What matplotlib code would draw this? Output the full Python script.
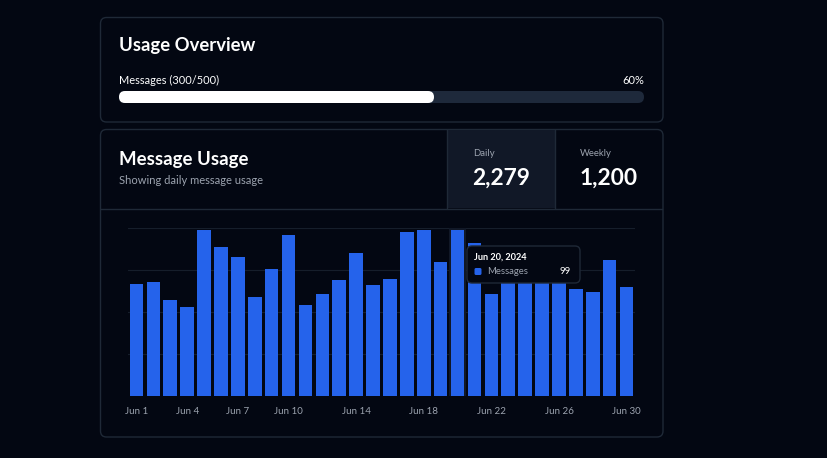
import matplotlib
matplotlib.use("Agg")
import matplotlib.pyplot as plt
from matplotlib.patches import FancyBboxPatch, Rectangle

plt.rcParams['font.family'] = ['Lato', 'DejaVu Sans']

# donnees
days = [f"Jun {d}" for d in range(1, 31)]
messages = [67, 68, 57, 53, 99, 89, 83, 59, 76, 96,
            54, 61, 69, 85, 66, 70, 98, 99, 80, 99,
            91, 61, 75, 80, 72, 78, 64, 62, 81, 65]
tick_idx = [0, 3, 6, 9, 13, 17, 21, 25, 29]
hover = 19
used, limit = 300, 500
daily_total = "2,279"
weekly_total = "1,200"

BG = "#030712"
BORDER = "#1f2937"
BLUE = "#2563eb"
GRAY = "#9ca3af"

W, H = 828, 458
fig = plt.figure(figsize=(W / 100, H / 100), dpi=100, facecolor=BG)

# fond en pixels
bg = fig.add_axes([0, 0, 1, 1])
bg.set_xlim(0, W)
bg.set_ylim(H, 0)
bg.axis("off")


def card(x0, y0, x1, y1, fc=BG, r=6):
    bg.add_patch(FancyBboxPatch((x0, y0), x1 - x0, y1 - y0,
                                boxstyle=f"round,pad=0,rounding_size={r}",
                                fc=fc, ec=BORDER, lw=1))


# carte 1 : Usage Overview
card(100.5, 17.5, 663, 122)
bg.text(119, 45, "Usage Overview", color="white", fontsize=13.3,
        fontweight="bold", va="center")
bg.text(119, 80, f"Messages ({used}/{limit})", color="white", fontsize=7.9,
        va="center")
bg.text(644, 80, f"{round(used / limit * 100)}%", color="white",
        fontsize=7.9, va="center", ha="right")
bg.add_patch(FancyBboxPatch((119, 91), 525, 12,
                            boxstyle="round,pad=0,rounding_size=6",
                            fc="#1e293b", ec="none"))
bg.add_patch(FancyBboxPatch((119, 91), 525 * used / limit, 12,
                            boxstyle="round,pad=0,rounding_size=6",
                            fc="white", ec="none"))

# carte 2 : Message Usage
card(100.5, 129.5, 663, 437)
bg.add_patch(Rectangle((447, 130), 108, 78, fc="#111827", ec="none"))
bg.plot([447, 447], [130, 208], color=BORDER, lw=1)
bg.plot([555, 555], [130, 208], color=BORDER, lw=1)
bg.plot([101, 662.5], [208.5, 208.5], color=BORDER, lw=1)
bg.text(119, 159, "Message Usage", color="white", fontsize=13.4,
        fontweight="bold", va="center")
bg.text(119, 180, "Showing daily message usage", color=GRAY, fontsize=8,
        va="center")
bg.text(473, 153, "Daily", color=GRAY, fontsize=6.8, va="center")
bg.text(472, 178, daily_total, color="white", fontsize=16.4,
        fontweight="bold", va="center")
bg.text(580, 153, "Weekly", color=GRAY, fontsize=6.8, va="center")
bg.text(580, 178, weekly_total, color="white", fontsize=16.4,
        fontweight="bold", va="center")

# graphique a barres
ax = fig.add_axes([128 / W, (H - 396) / H, 507 / W, (396 - 228.3) / H])
ax.set_facecolor("none")
x = list(range(len(days)))
ax.set_xlim(-0.5, len(days) - 0.5)
ax.set_ylim(0, 100)
ax.bar(hover, 100, width=1.0, color="#111827", zorder=1)
ax.bar(x, messages, width=0.8, color=BLUE, zorder=2)
for v in [25, 50, 75, 100]:
    ax.axhline(v, color="#161e2b", lw=0.8, zorder=0)
ax.set_yticks([])
ax.set_xticks([x[i] for i in tick_idx])
ax.set_xticklabels([days[i] for i in tick_idx], color=GRAY, fontsize=7)
ax.tick_params(axis="x", length=0, pad=8)
for s in ax.spines.values():
    s.set_visible(False)

# infobulle
tip = fig.add_axes([0, 0, 1, 1])
tip.set_xlim(0, W)
tip.set_ylim(H, 0)
tip.axis("off")
tip.add_patch(FancyBboxPatch((467, 246), 113, 37,
                             boxstyle="round,pad=0,rounding_size=5",
                             fc=BG, ec=BORDER, lw=1))
tip.text(474, 257, f"{days[hover]}, 2024", color="white", fontsize=6.6,
         fontweight="bold", va="center")
tip.add_patch(FancyBboxPatch((474.5, 268), 7, 7,
                             boxstyle="round,pad=0,rounding_size=1.5",
                             fc=BLUE, ec="none"))
tip.text(487, 272, "Messages", color=GRAY, fontsize=6.8, va="center")
tip.text(571, 272, str(messages[hover]), color="white", fontsize=6.8,
         va="center", ha="right")

fig.savefig("out.png", dpi=100, facecolor=BG)
